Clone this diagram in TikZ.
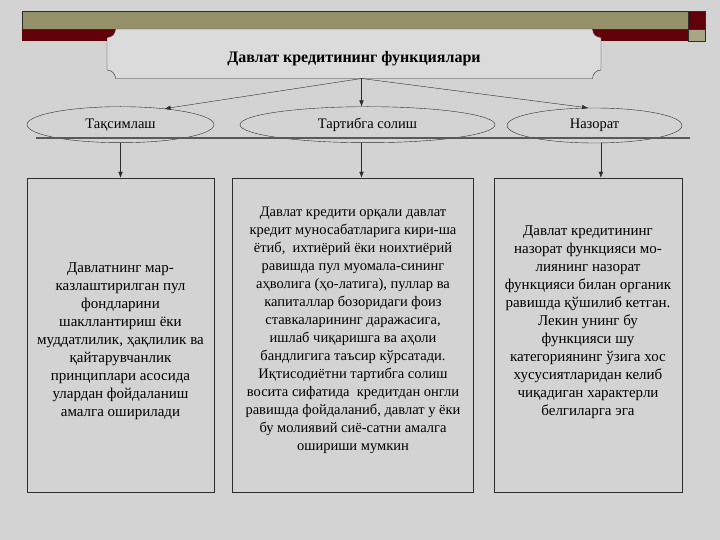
\documentclass[tikz,border=0pt]{standalone}
\usepackage{fontspec}
\setmainfont{Liberation Serif}
\usepackage{tikz}
\usetikzlibrary{
    arrows.meta,
    shapes.geometric
}

\definecolor{bg}{RGB}{211,211,211}
\definecolor{plaque}{RGB}{219,219,219}
\definecolor{olivebar}{RGB}{148,144,104}
\definecolor{wine}{RGB}{96,0,8}
\definecolor{edge}{RGB}{45,45,45}

\tikzset{
    func/.style={draw=edge, fill=bg, ellipse, inner sep=0pt, text height=10pt, text depth=3pt, font=\fontsize{14.5}{16}\selectfont},
    frame/.style={draw=edge, fill=bg, minimum height=314, inner sep=0pt},
    body/.style={align=center, inner sep=0pt, font=\fontsize{15}{18}\selectfont},
    link/.style={draw=edge, -{Latex[length=6pt, width=4.5pt]}}
}

\begin{document}
\begin{tikzpicture}[x=1pt, y=-1pt]
            % Background
            \fill[bg] (0,0) rectangle (720,540);
            \useasboundingbox (0,0) rectangle (720,540);

            % Banner
            \fill[wine] (22,29) rectangle (688,41);
            \draw[edge, fill=olivebar] (22,11) rectangle (688,29);
            \draw[edge, fill=wine] (688,11) rectangle (705.5,29);
            \draw[edge, fill=olivebar!80!white] (688,29) rectangle (705.5,41);

            % Title plaque
            \draw[edge, fill=plaque] (115.5,29) -- (592.5,29)
                .. controls (592.5,33.7) and (596.3,37.5) .. (601,37.5) -- (601,70)
                .. controls (596.3,70) and (592.5,73.8) .. (592.5,78.5) -- (115.5,78.5)
                .. controls (115.5,73.8) and (111.7,70) .. (107,70) -- (107,37.5)
                .. controls (111.7,37.5) and (115.5,33.7) .. (115.5,29) -- cycle;
            \node[font=\bfseries\fontsize{16}{18}\selectfont] (title) at (354,59) {Давлат кредитининг функциялари};
            \coordinate (hub) at (361.5,78.5);

            % Functions
            \node[func, minimum width=187, minimum height=36] (taqsim) at (120.5,124.7) {Тақсимлаш};
            \node[func, minimum width=255, minimum height=36] (tartib) at (367.5,124.7) {Тартибга солиш};
            \node[func, minimum width=175, minimum height=35] (nazorat) at (594.5,125.5) {Назорат};
            \draw[gray!70!black, line width=2pt] (36,137.7) -- (690,137.7);

            \draw[link] (hub) -- (taqsim.20);
            \draw[link] (hub) -- (hub |- tartib.north);
            \draw[link] (hub) -- (nazorat.110);

            % Boxes
            \node[frame, minimum width=187] (taqsimbox) at (120.5,335) {};
            \node[frame, minimum width=241] (tartibbox) at (353,335) {};
            \node[frame, minimum width=188] (nazoratbox) at (588,335) {};

            \draw[link] (taqsim.south) -- (taqsim.south |- taqsimbox.north);
            \draw[link] (hub |- tartib.south) -- (hub |- tartibbox.north);
            \draw[link] (nazorat.-70) -- (nazorat.-70 |- nazoratbox.north);

            % Texts
            \node[body] (taqsimtext) at (120.5,341) {Давлатнинг мар-\\казлаштирилган пул\\фондларини\\шакллантириш ёки\\муддатлилик, ҳақлилик ва\\қайтарувчанлик\\принциплари асосида\\улардан фойдаланиш\\амалга оширилади};
            \node[body, font=\fontsize{14.5}{18}\selectfont] (tartibtext) at (353,330) {Давлат кредити орқали давлат\\кредит муносабатларига кири-ша\\ётиб,~ ихтиёрий ёки ноихтиёрий\\равишда пул муомала-сининг\\аҳволига (ҳо-латига), пуллар ва\\капиталлар бозоридаги фоиз\\ставкаларининг даражасига,\\ишлаб чиқаришга ва аҳоли\\бандлигига таъсир кўрсатади.\\Иқтисодиётни тартибга солиш\\восита сифатида~ кредитдан онгли\\равишда фойдаланиб, давлат у ёки\\бу молиявий сиё-сатни амалга\\ошириши мумкин};
            \node[body] (nazorattext) at (588,322) {Давлат кредитининг\\назорат функцияси мо-\\лиянинг назорат\\функцияси билан органик\\равишда қўшилиб кетган.\\Лекин унинг бу\\функцияси шу\\категориянинг ўзига хос\\хусусиятларидан келиб\\чиқадиган характерли\\белгиларга эга};
        \end{tikzpicture}
\end{document}
